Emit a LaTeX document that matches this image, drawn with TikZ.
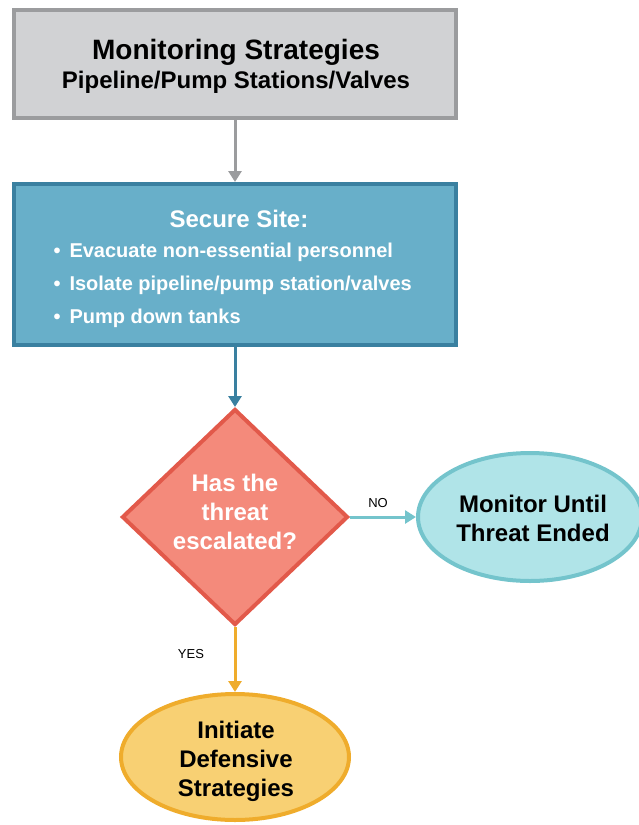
\documentclass[tikz,border=0pt]{standalone}
\usepackage{fontspec}
\setmainfont{Liberation Sans}
\usetikzlibrary{shapes.geometric,arrows.meta}
\definecolor{greyfill}{HTML}{D1D2D4}
\definecolor{greyline}{HTML}{9B9C9E}
\definecolor{bluefill}{HTML}{68AFC9}
\definecolor{blueline}{HTML}{3A80A0}
\definecolor{redfill}{HTML}{F48A7B}
\definecolor{redline}{HTML}{E2594A}
\definecolor{cyanfill}{HTML}{B0E4E8}
\definecolor{cyanline}{HTML}{74C4CC}
\definecolor{goldfill}{HTML}{F8D073}
\definecolor{goldline}{HTML}{EFAC2C}
\tikzset{
  x=1pt, y=-1pt,
  boxbase/.style={rectangle, line width=4pt, minimum width=442pt, align=center},
  decision/.style={diamond, line width=4pt, fill=redfill, draw=redline,
    minimum width=226pt, minimum height=216pt, inner sep=0pt},
  terminal/.style={ellipse, line width=4pt, inner sep=0pt},
  label text/.style={align=center, font=\bfseries\fontsize{24}{29}\selectfont},
  link/.style={line width=3pt, -{Triangle[length=11pt,width=13pt]}},
  tag/.style={font=\fontsize{13}{15}\selectfont}
}
\begin{document}
\begin{tikzpicture}
\useasboundingbox (0,0) rectangle (639,825);
% top box
\node[boxbase, fill=greyfill, draw=greyline, minimum height=108pt] (monitor) at (235,64) {};
\node[font=\bfseries\fontsize{28}{32}\selectfont] (montitle) at (236,52) {Monitoring Strategies};
\node[font=\bfseries\fontsize{24}{28}\selectfont] (monsub) at (236,82) {Pipeline/Pump Stations/Valves};
% secure site box
\node[boxbase, fill=bluefill, draw=blueline, minimum height=161pt] (secure) at (235,264.5) {};
\node[text=white, font=\bfseries\fontsize{24}{28}\selectfont] (securetitle) at (239,219) {Secure Site:};
\node[text=white, anchor=west, align=left, font=\bfseries\fontsize{20}{33}\selectfont]
  (securelist) at (50,285)
  {\textbullet\hspace{9pt}Evacuate non-essential personnel\\
   \textbullet\hspace{9pt}Isolate pipeline/pump station/valves\\
   \textbullet\hspace{9pt}Pump down tanks};
% decision
\node[decision] (escal) at (235,517) {};
\node[label text, text=white] (escaltext) at (235,512) {Has the\\threat\\escalated?};
% outcomes
\node[terminal, fill=cyanfill, draw=cyanline, minimum width=224pt, minimum height=128pt]
  (until) at (530,517) {};
\node[label text] (untiltext) at (533,518) {Monitor Until\\Threat Ended};
\node[terminal, fill=goldfill, draw=goldline, minimum width=228pt, minimum height=126pt]
  (defend) at (235,757) {};
\node[label text] (defendtext) at (236,761) {Initiate\\Defensive\\Strategies};
% connectors
\draw[link, greyline] (monitor.south) -- (secure.north);
\draw[link, blueline] (secure.south) -- (escal.north);
\draw[link, cyanline] (escal.east) -- (until.west);
\draw[link, goldline] (escal.south) -- (defend.north);
\node[tag] (nolabel) at (378,503) {NO};
\node[tag] (yeslabel) at (191,654) {YES};
\end{tikzpicture}
\end{document}
